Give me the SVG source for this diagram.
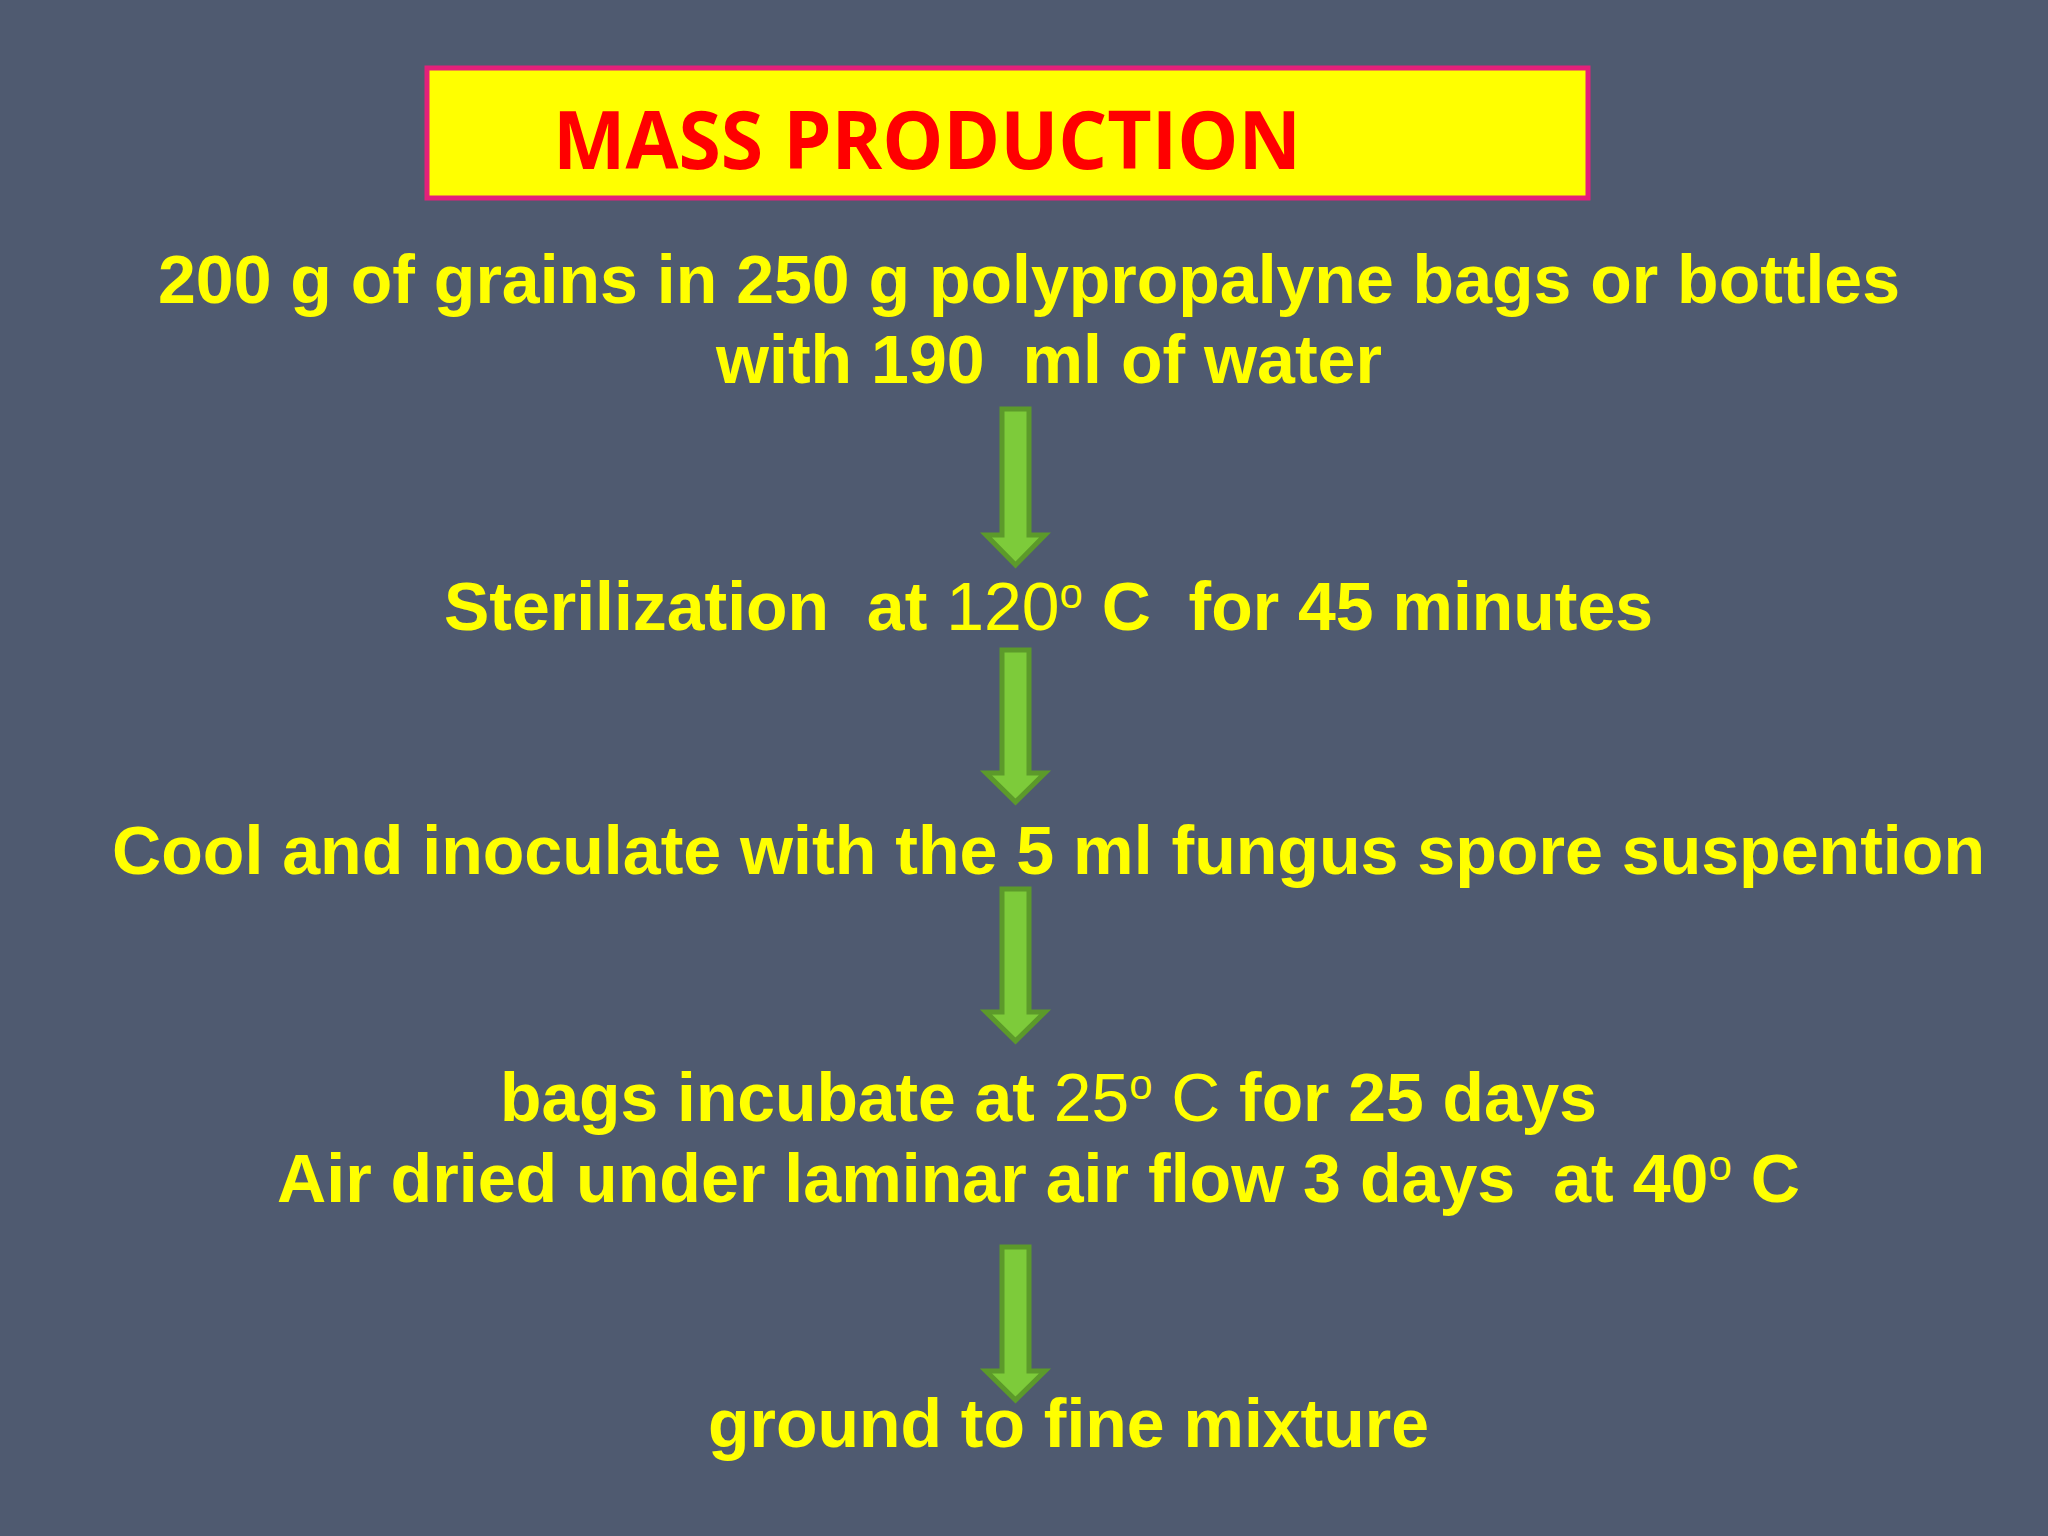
<svg xmlns="http://www.w3.org/2000/svg" width="2048" height="1536" viewBox="0 0 2048 1536">
<style>
.t{font-family:"Liberation Sans",Arial,sans-serif;font-weight:bold;font-size:68px;fill:#FFFF00;white-space:pre}
.r{font-weight:normal}
.s{font-weight:normal;font-size:42px}
.arrow{fill:#7DCB3A;stroke:#5C9A2A;stroke-width:5;stroke-linejoin:miter}
</style>
<rect width="2048" height="1536" fill="#4F5A70"/>
<g id="title">
<rect x="427" y="68" width="1161" height="130" fill="#FFFF00" stroke="#E3207A" stroke-width="5"/>
<text x="553" y="169" font-family="'Open Sans','Liberation Sans',sans-serif" font-weight="bold" font-size="80" fill="#FF0000" textLength="748" lengthAdjust="spacingAndGlyphs">MASS PRODUCTION</text>
</g>
<g id="step1">
<text class="t" x="158" y="303" textLength="1742" lengthAdjust="spacingAndGlyphs">200 g of grains in 250 g polypropalyne bags or bottles</text>
<text class="t" x="716" y="383" textLength="666" lengthAdjust="spacingAndGlyphs">with 190  ml of water</text>
</g>
<g id="step2">
<text class="t" x="444" y="630" textLength="1209" lengthAdjust="spacingAndGlyphs">Sterilization  at <tspan class="r">120</tspan><tspan class="s" dy="-22">o</tspan><tspan dy="22"> C  for 45 minutes</tspan></text>
</g>
<g id="step3">
<text class="t" x="112" y="874" textLength="1873" lengthAdjust="spacingAndGlyphs">Cool and inoculate with the 5 ml fungus spore suspention</text>
</g>
<g id="step4">
<text class="t" x="500" y="1121" textLength="1097" lengthAdjust="spacingAndGlyphs">bags incubate at <tspan class="r">25</tspan><tspan class="s" dy="-22">o</tspan><tspan class="r" dy="22"> C</tspan> for 25 days</text>
<text class="t" x="277" y="1202" textLength="1523" lengthAdjust="spacingAndGlyphs">Air dried under laminar air flow 3 days  at 40<tspan class="s" dy="-22">o</tspan><tspan dy="22"> C</tspan></text>
</g>
<g id="step5">
<text class="t" x="708" y="1447" textLength="721" lengthAdjust="spacingAndGlyphs">ground to fine mixture</text>
</g>
<g id="connectors">
<path class="arrow" d="M1002,409 H1029 V535 H1045 L1015.5,565 L986,535 H1002 Z"/>
<path class="arrow" d="M1002,650 H1029 V773 H1045 L1015.5,802 L986,773 H1002 Z"/>
<path class="arrow" d="M1002,889 H1029 V1012 H1045 L1015.5,1041 L986,1012 H1002 Z"/>
<path class="arrow" d="M1002,1247 H1029 V1371 H1045 L1015.5,1400 L986,1371 H1002 Z"/>
</g>
</svg>
